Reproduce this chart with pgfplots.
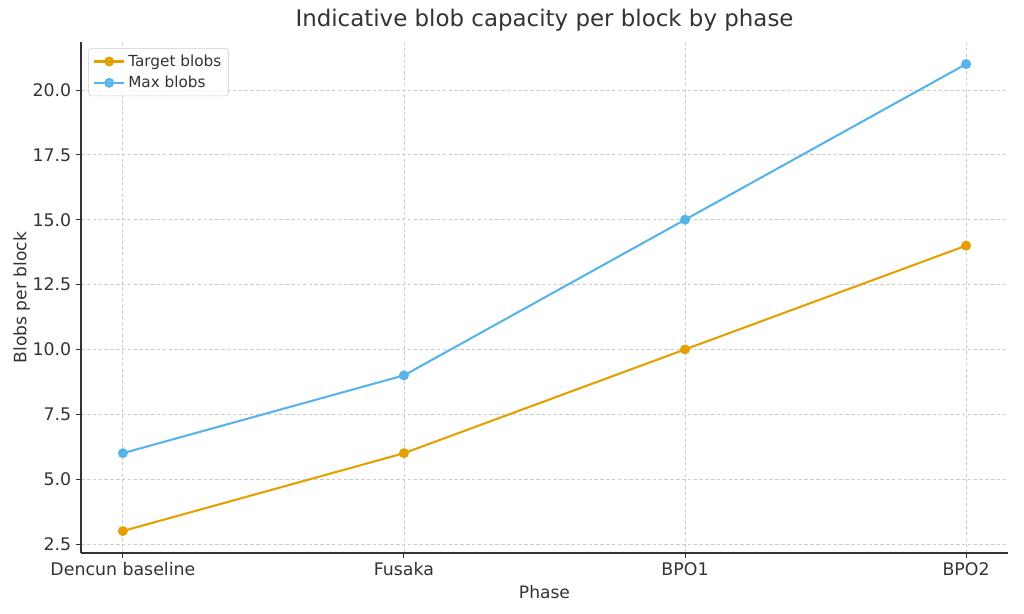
\documentclass[border=0pt]{standalone}
\usepackage{pgfplots}
\pgfplotsset{compat=1.18}
\usepackage{fontspec}
\setmainfont{DejaVu Sans}
\definecolor{c_target}{HTML}{E69F00}
\definecolor{c_max}{HTML}{56B4E9}
\definecolor{c_text}{HTML}{333333}
\definecolor{c_grid}{HTML}{CCCCCC}
\begin{document}
\begin{tikzpicture}
% 1 px of the 1024x614 reference = 0.72bp
\path[use as bounding box] (0bp,0bp) rectangle (737.28bp,442.08bp);
\begin{axis}[
  at={(58.32bp,43.92bp)}, anchor=south west,
  scale only axis,
  width=667.4bp, height=367.9bp,
  xmin=-0.149, xmax=3.149,
  ymin=2.153, ymax=21.85,
  axis x line*=bottom, axis y line*=left,
  axis line style={c_text, line width=0.9bp},
  tick align=outside, tick style={c_text, line width=0.7bp},
  major tick length=3.5bp,
  xtick=data,
  xticklabels={Dencun baseline, Fusaka, BPO1, BPO2},
  ytick={2.5,5,...,20},
  /pgf/number format/assume math mode=true,
  yticklabel style={/pgf/number format/.cd, fixed, fixed zerofill, precision=1},
  ticklabel style={font=\fontsize{12.5bp}{14bp}\selectfont, text=c_text},
  grid=major,
  grid style={c_grid, dash pattern=on 2.6bp off 1.6bp, line width=0.6bp},
  title={Indicative blob capacity per block by phase},
  title style={font=\fontsize{16.5bp}{19bp}\selectfont, text=c_text, yshift=-2bp},
  xlabel={Phase},
  ylabel={Blobs per block},
  ylabel shift=-5bp,
  label style={font=\fontsize{12.3bp}{14bp}\selectfont, text=c_text},
  legend cell align=left,
  legend image code/.code={
    \draw[mark repeat=2, mark phase=2] plot coordinates {(0bp,0bp) (11bp,0bp) (22bp,0bp)};},
  legend style={font=\fontsize{11bp}{13bp}\selectfont, text=c_text,
    draw=c_grid, rounded corners=2bp, fill=white, fill opacity=0.8, text opacity=1,
    at={(0.008,0.988)}, anchor=north west, row sep=1.5bp,
    inner xsep=3bp, inner ysep=2.5bp},
]
\addplot[c_target, line width=1.5bp, mark=*, mark size=2.8bp, mark options={fill=c_target}]
  coordinates {(0,3) (1,6) (2,10) (3,14)};
\addlegendentry{Target blobs}
\addplot[c_max, line width=1.5bp, mark=*, mark size=2.8bp, mark options={fill=c_max}]
  coordinates {(0,6) (1,9) (2,15) (3,21)};
\addlegendentry{Max blobs}
\end{axis}
\end{tikzpicture}
\end{document}
